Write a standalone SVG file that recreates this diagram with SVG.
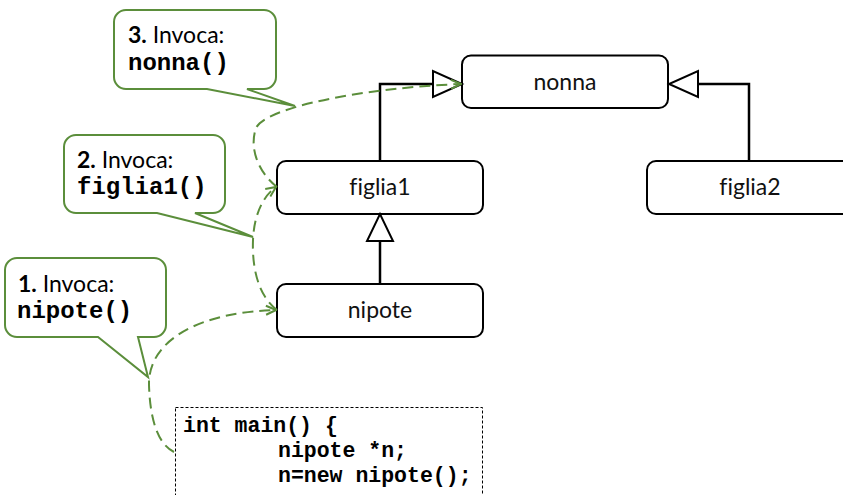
<svg xmlns="http://www.w3.org/2000/svg" width="843" height="495" viewBox="0 0 843 495">
  <style>
    text { font-variant-ligatures: none; }
    .cls { fill: #ffffff; stroke: #000000; stroke-width: 2; }
    .lbl { font-family: Lato, "Open Sans", sans-serif; font-size: 23px; fill: #111111; text-anchor: middle; }
    .gen { fill: none; stroke: #000000; stroke-width: 2.5; }
    .tri { fill: #ffffff; stroke: #000000; stroke-width: 2; stroke-linejoin: miter; }
    .call { fill: none; stroke: #5B8E3B; stroke-width: 2; stroke-dasharray: 11 6; }
    .bubble { fill: #ffffff; stroke: #5B8E3B; stroke-width: 2; stroke-linejoin: miter; }
    .btxt { font-family: Lato, "Open Sans", sans-serif; font-size: 23px; fill: #000000; }
    .bmono { font-family: "Liberation Mono", "Courier New", monospace; font-size: 24px; font-weight: bold; fill: #000000; }
    .code { font-family: "Liberation Mono", "Courier New", monospace; font-size: 21.5px; font-weight: bold; fill: #000000; }
  </style>
  <defs>
    <marker id="vopen" viewBox="0 0 12 12" refX="11" refY="6" markerWidth="12" markerHeight="12" markerUnits="userSpaceOnUse" orient="auto">
      <path d="M1,1.5 L11,6 L1,10.5" fill="none" stroke="#5B8E3B" stroke-width="2" stroke-dasharray="none"/>
    </marker>
  </defs>

  <rect width="843" height="495" fill="#ffffff"/>

  <!-- class boxes -->
  <g id="nonna">
    <rect class="cls" x="462" y="55.5" width="206" height="52.5" rx="9"/>
    <text class="lbl" x="565" y="90">nonna</text>
  </g>
  <g id="figlia1">
    <rect class="cls" x="277" y="161" width="206" height="53" rx="9"/>
    <text class="lbl" x="380" y="195">figlia1</text>
  </g>
  <g id="figlia2">
    <rect class="cls" x="647" y="161" width="206" height="53" rx="9"/>
    <text class="lbl" x="750" y="195">figlia2</text>
  </g>
  <g id="nipote">
    <rect class="cls" x="277" y="284" width="206" height="53" rx="9"/>
    <text class="lbl" x="380" y="318">nipote</text>
  </g>

  <!-- code snippet -->
  <g id="main-code">
    <rect x="175.5" y="407.5" width="307" height="100" fill="#ffffff" stroke="#000000" stroke-width="1" stroke-dasharray="3 2"/>
    <text class="code" x="183" y="432">int main() {</text>
    <text class="code" x="278" y="457">nipote *n;</text>
    <text class="code" x="278" y="482">n=new nipote();</text>
  </g>

  <!-- callouts -->
  <g id="callout-1">
    <path class="bubble" d="M17,258 H154 A12,12 0 0 1 166,270 V325 A12,12 0 0 1 154,337 H138 L148,377 L98,337 H17 A12,12 0 0 1 5,325 V270 A12,12 0 0 1 17,258 Z"/>
    <text class="btxt" x="18" y="292"><tspan font-weight="bold">1.</tspan> Invoca:</text>
    <text class="bmono" x="17" y="318">nipote()</text>
  </g>
  <g id="callout-2">
    <path class="bubble" d="M76,135 H213 A12,12 0 0 1 225,147 V201 A12,12 0 0 1 213,213 H195 L253,237 L157,213 H76 A12,12 0 0 1 64,201 V147 A12,12 0 0 1 76,135 Z"/>
    <text class="btxt" x="77" y="168"><tspan font-weight="bold">2.</tspan> Invoca:</text>
    <text class="bmono" x="77" y="194">figlia1()</text>
  </g>
  <g id="callout-3">
    <path class="bubble" d="M126,10 H264 A12,12 0 0 1 276,22 V77 A12,12 0 0 1 264,89 H247 L295,106 L207,89 H126 A12,12 0 0 1 114,77 V22 A12,12 0 0 1 126,10 Z"/>
    <text class="btxt" x="128" y="43"><tspan font-weight="bold">3.</tspan> Invoca:</text>
    <text class="bmono" x="128" y="70">nonna()</text>
  </g>

  <!-- connectors: generalisation arrows and call sequence -->
  <g id="connectors">
    <polyline class="gen" points="380,161 380,84 433,84"/>
    <polygon class="tri" points="433,71 433,97 462,84"/>
    <polyline class="gen" points="749,161 749,84 698,84"/>
    <polygon class="tri" points="698,71 698,97 669,84"/>
    <line class="gen" x1="380" y1="284" x2="380" y2="241"/>
    <polygon class="tri" points="367,241 393,241 380,214"/>

    <path class="call" marker-end="url(#vopen)" d="M174,452 C158,444 150,420 149,385 C148,340 200,312 276,310"/>
    <path class="call" marker-end="url(#vopen)" d="M277,310 C257,295 252,265 253,240 C254,215 263,196 276,187"/>
    <path class="call" marker-end="url(#vopen)" d="M277,187 C258,172 249,148 256,128 C265,108 360,88 461,84"/>
  </g>
</svg>
